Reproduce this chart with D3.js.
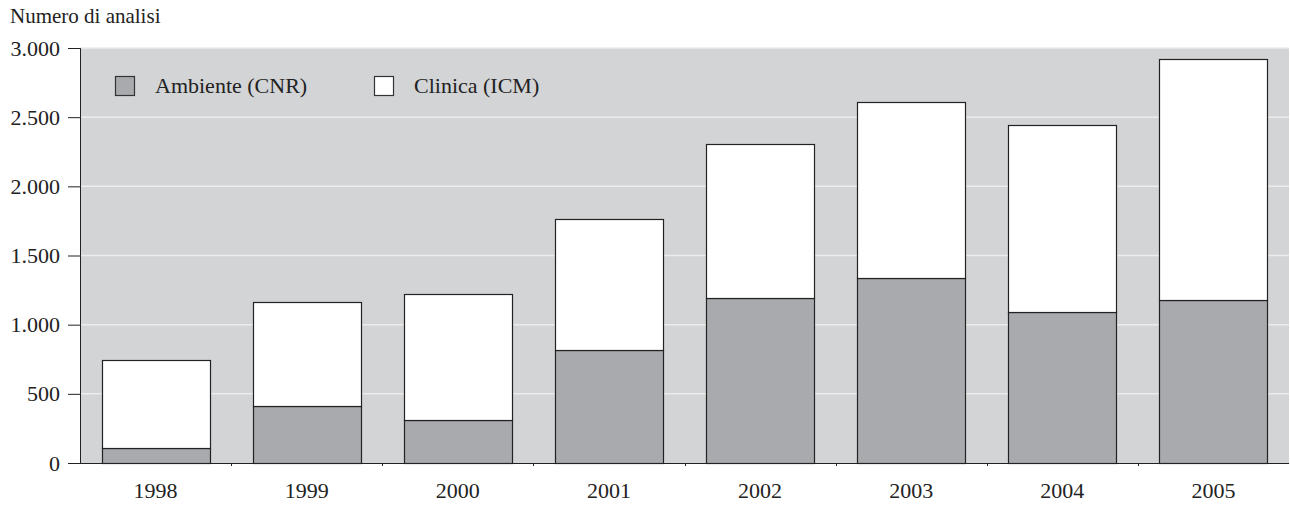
<!DOCTYPE html>
<html>
<head>
<meta charset="utf-8">
<script src="https://cdn.jsdelivr.net/npm/d3@7"></script>
<style>
  body { margin: 0; background: #fff; }
  text { font-family: "Liberation Serif", "DejaVu Serif", serif; fill: #222; }
</style>
</head>
<body>
<div id="chart"></div>
<script>
const years = ["1998", "1999", "2000", "2001", "2002", "2003", "2004", "2005"];
const ambiente = [110, 410, 310, 820, 1190, 1340, 1090, 1180];
const clinica = [635, 755, 910, 945, 1115, 1270, 1350, 1740];
const yTicks = [0, 500, 1000, 1500, 2000, 2500, 3000];
const seriesNames = ["Ambiente (CNR)", "Clinica (ICM)"];

const width = 1290, height = 507;
const margin = {top: 48, right: 1, bottom: 44, left: 80};
const w = width - margin.left - margin.right;
const h = height - margin.top - margin.bottom;

const colors = ["#a9aaad", "#ffffff"];
const bgColor = "#d3d4d6";
const FONT_SIZE = "22px";

const svg = d3.select("#chart").append("svg")
  .attr("width", width)
  .attr("height", height);

const g = svg.append("g")
  .attr("transform", "translate(" + margin.left + "," + margin.top + ")");

const x = d3.scaleBand().domain(years).range([0, w]).paddingInner(0.285).paddingOuter(0.1425);
const y = d3.scaleLinear().domain([0, 3000]).range([h, 0]);

// plot background
g.append("rect")
  .attr("x", 0).attr("y", 0)
  .attr("width", w).attr("height", h)
  .attr("fill", bgColor);

// grid lines
g.append("g")
  .selectAll("line")
  .data(yTicks.filter(d => d > 0))
  .enter().append("line")
  .attr("x1", 0).attr("x2", w)
  .attr("y1", d => y(d)).attr("y2", d => y(d))
  .attr("stroke", "#ececec")
  .attr("stroke-width", 1.5);

// stacked bars
const table = years.map((yr, i) => ({year: yr, amb: ambiente[i], cli: clinica[i]}));
const stack = d3.stack().keys(["amb", "cli"])(table);

g.append("g")
  .selectAll("g")
  .data(stack)
  .enter().append("g")
  .attr("fill", (d, i) => colors[i])
  .selectAll("rect")
  .data(d => d)
  .enter().append("rect")
  .attr("x", d => Math.round(x(d.data.year)) + 0.5)
  .attr("y", d => Math.round(y(d[1])) + 0.5)
  .attr("width", Math.round(x.bandwidth()))
  .attr("height", d => Math.round(y(d[0])) - Math.round(y(d[1])))
  .attr("stroke", "#222")
  .attr("stroke-width", 1.2);

// y axis
const yAxis = g.append("g")
  .call(d3.axisLeft(y).tickValues(yTicks).tickSize(12).tickPadding(8)
    .tickFormat(d => d3.format(",")(d).replace(/,/g, ".")));
yAxis.select(".domain").attr("stroke", "#222").attr("d", "M0.5," + h + "V0");
yAxis.selectAll(".tick line").attr("stroke", "#222");
yAxis.selectAll("text").style("font-size", FONT_SIZE).attr("fill", "#222");

// x axis
const xAxis = g.append("g")
  .attr("transform", "translate(0," + h + ")");
xAxis.append("line")
  .attr("x1", 0).attr("x2", w)
  .attr("y1", 0.5).attr("y2", 0.5)
  .attr("stroke", "#222").attr("stroke-width", 1.2);
xAxis.selectAll(".sep")
  .data(years.slice(1))
  .enter().append("line")
  .attr("x1", d => Math.round(x(d) - x.step() * x.paddingInner() / 2) + 0.5)
  .attr("x2", d => Math.round(x(d) - x.step() * x.paddingInner() / 2) + 0.5)
  .attr("y1", 0).attr("y2", 3)
  .attr("stroke", "#222");
xAxis.selectAll(".lbl")
  .data(years)
  .enter().append("text")
  .attr("x", d => x(d) + x.bandwidth() / 2)
  .attr("y", 35)
  .attr("text-anchor", "middle")
  .style("font-size", FONT_SIZE)
  .text(d => d);

// axis title
svg.append("text")
  .attr("x", 10).attr("y", 23)
  .style("font-size", "21px")
  .text("Numero di analisi");

// legend
const legendX = [115, 374];
const legend = svg.append("g");
seriesNames.forEach((name, i) => {
  legend.append("rect")
    .attr("x", legendX[i] + 0.5).attr("y", 76.5)
    .attr("width", 19).attr("height", 19)
    .attr("fill", colors[i])
    .attr("stroke", "#333").attr("stroke-width", 1.2);
  legend.append("text")
    .attr("x", legendX[i] + 40).attr("y", 93)
    .style("font-size", FONT_SIZE)
    .text(name);
});
</script>
</body>
</html>
